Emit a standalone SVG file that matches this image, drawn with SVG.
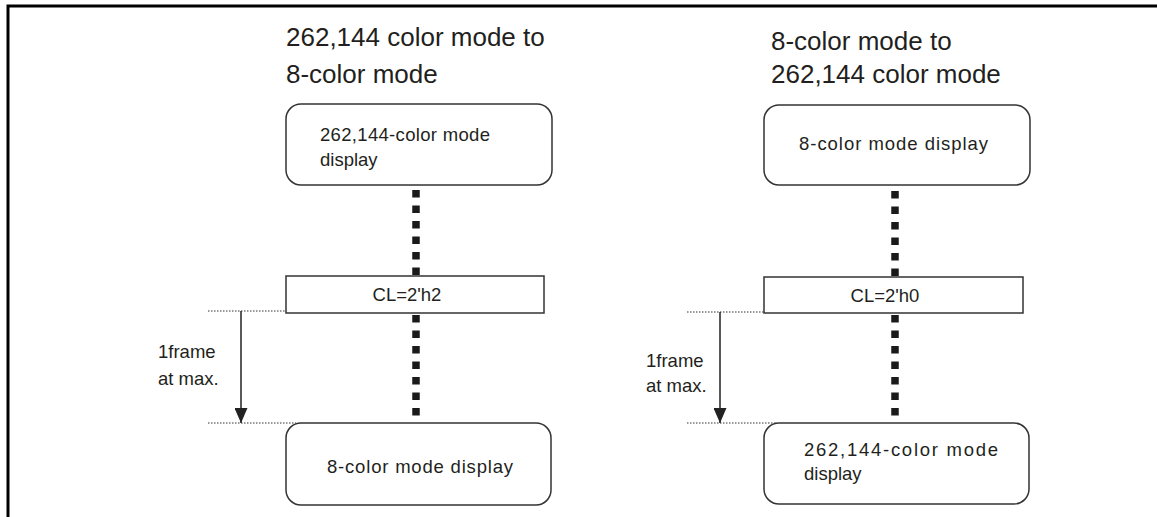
<svg xmlns="http://www.w3.org/2000/svg" width="1157" height="517" viewBox="0 0 1157 517">
<style>
.t{font-family:"Liberation Sans",Arial,sans-serif;fill:#231f20}
.title{font-size:26px}
.lbl{font-size:18.5px}
.box{fill:#fff;stroke:#333;stroke-width:1.5}
.dots{stroke:#1a1a1a;stroke-width:7.5;stroke-dasharray:7.5 8}
.guide{stroke:#333;stroke-width:1;stroke-dasharray:1.5 1.5}
.arr{stroke:#222;stroke-width:1.5}
</style>
<defs>
<marker id="ah" viewBox="0 0 15 13" refX="15" refY="6.5" markerWidth="15" markerHeight="13" markerUnits="userSpaceOnUse" orient="auto">
<path d="M0,0 L15,6.5 L0,13 Z" fill="#222"/>
</marker>
</defs>
<path d="M8,517 V6 H1157" fill="none" stroke="#000" stroke-width="3"/>
<text class="t title" x="286" y="46">262,144 color mode to</text>
<text class="t title" x="286" y="83">8-color mode</text>
<text class="t title" x="771" y="50">8-color mode to</text>
<text class="t title" x="771" y="83">262,144 color mode</text>
<g id="connectors">
<line class="dots" x1="416" y1="190" x2="416" y2="276"/>
<line class="dots" x1="416" y1="315" x2="416" y2="416"/>
<line class="dots" x1="895" y1="191" x2="895" y2="277"/>
<line class="dots" x1="895" y1="315" x2="895" y2="417"/>
<line class="guide" x1="208" y1="311" x2="286" y2="311"/>
<line class="guide" x1="208" y1="423" x2="296" y2="423"/>
<line class="guide" x1="687" y1="312" x2="764" y2="312"/>
<line class="guide" x1="687" y1="423" x2="776" y2="423"/>
<line class="arr" x1="241" y1="311" x2="241" y2="423" marker-end="url(#ah)"/>
<line class="arr" x1="720" y1="312" x2="720" y2="423" marker-end="url(#ah)"/>
</g>
<g id="n1">
<rect class="box" x="286" y="104" width="266" height="81" rx="15"/>
<text class="t lbl" x="320" y="141" textLength="170" lengthAdjust="spacing">262,144-color mode</text>
<text class="t lbl" x="320" y="166">display</text>
</g>
<g id="n2">
<rect class="box" x="286" y="276" width="258" height="37"/>
<text class="t lbl" x="407" y="301" text-anchor="middle">CL=2'h2</text>
</g>
<g id="n3">
<rect class="box" x="286" y="423" width="265" height="82" rx="15"/>
<text class="t lbl" x="327" y="473" textLength="186" lengthAdjust="spacing">8-color mode display</text>
</g>
<g id="lbl1">
<text class="t lbl" x="158" y="358">1frame</text>
<text class="t lbl" x="158" y="385">at max.</text>
</g>
<g id="n4">
<rect class="box" x="764" y="105" width="266" height="80" rx="15"/>
<text class="t lbl" x="799" y="150" textLength="189" lengthAdjust="spacing">8-color mode display</text>
</g>
<g id="n5">
<rect class="box" x="764" y="277" width="259" height="36"/>
<text class="t lbl" x="885" y="302" text-anchor="middle">CL=2'h0</text>
</g>
<g id="n6">
<rect class="box" x="764" y="423" width="265" height="81" rx="15"/>
<text class="t lbl" x="804" y="456" textLength="194" lengthAdjust="spacing">262,144-color mode</text>
<text class="t lbl" x="804" y="480">display</text>
</g>
<g id="lbl2">
<text class="t lbl" x="646" y="367">1frame</text>
<text class="t lbl" x="646" y="392">at max.</text>
</g>
</svg>
